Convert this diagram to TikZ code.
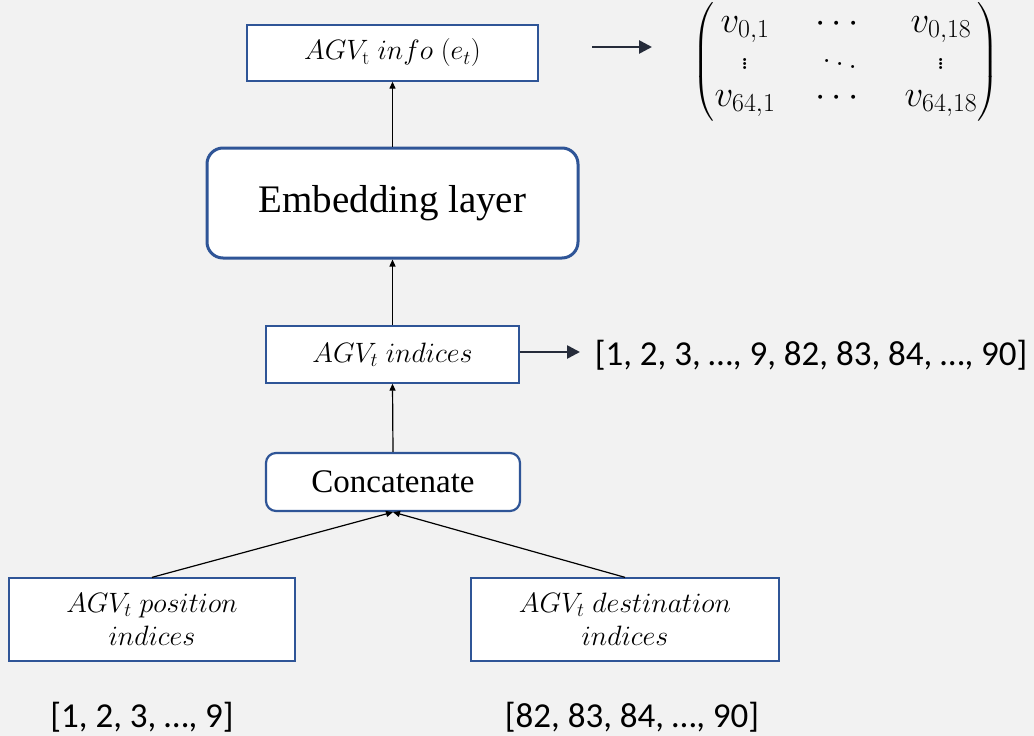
\documentclass[tikz,border=0pt]{standalone}
\usepackage{fix-cm}
\usepackage{amsmath}
\usepackage{fontspec}
\newfontfamily\calfont{Carlito}
\newfontfamily\timesfont{Liberation Serif}
\usetikzlibrary{arrows.meta}
\definecolor{bg}{HTML}{F2F2F2}
\definecolor{boxblue}{HTML}{2F5597}
\definecolor{darrow}{HTML}{262C3A}
\begin{document}
\begin{tikzpicture}[x=1pt,y=-1pt,
  sqbox/.style={draw=boxblue, line width=1.3pt, fill=white, inner sep=0pt, align=center,
    font=\fontsize{28}{33}\selectfont},
  rbox/.style={draw=boxblue, fill=white, inner sep=0pt, align=center},
  varrow/.style={draw=black, line width=1.2pt, -{Triangle[length=7pt,width=6pt]}},
  harrow/.style={draw=darrow, line width=2.6pt, -{Triangle[length=13pt,width=13pt]}},
  lbl/.style={inner sep=0pt, font=\calfont\fontsize{35}{40}\selectfont}]
\fill[bg] (0,0) rectangle (1034,736);
\useasboundingbox (0,0) rectangle (1034,736);

\node[sqbox, minimum width=291pt, minimum height=56pt] (info) at (392.5,53) {$AGV_{\mathrm{t}}\;info\;(e_t)$};
\node[rbox, line width=3pt, rounded corners=16pt, minimum width=371pt, minimum height=110pt,
  font=\timesfont\fontsize{39}{44}\selectfont] (emb) at (392.5,203) {Embedding layer};
\node[sqbox, minimum width=253pt, minimum height=57pt] (idx) at (392.5,354.5) {$AGV_t\;indices$};
\node[rbox, line width=2.2pt, rounded corners=10pt, minimum width=254pt, minimum height=58pt,
  font=\timesfont\fontsize{33}{38}\selectfont] (cat) at (393,482) {Concatenate};
\node[sqbox, minimum width=286pt, minimum height=83pt] (pos) at (152,619.5) {$AGV_t\;position$\\$indices$};
\node[sqbox, minimum width=308pt, minimum height=83pt] (dst) at (625,619.5) {$AGV_t\;destination$\\$indices$};

\node[lbl] (idxlist) at (811,355) {[1, 2, 3, …, 9, 82, 83, 84, …, 90]};
\node[lbl] (poslist) at (142,717) {[1, 2, 3, …, 9]};
\node[lbl] (dstlist) at (632,717) {[82, 83, 84, …, 90]};

\node[inner sep=0pt, font=\fontsize{37}{37}\selectfont] (mat) at (846,62)
  {\setlength{\arraycolsep}{20pt}$\begin{pmatrix} v_{0,1} & \cdots & v_{0,18}\\ \vdots & \ddots & \vdots\\ v_{64,1} & \cdots & v_{64,18}\end{pmatrix}$};

\coordinate (ia) at (592,47);
\coordinate (ib) at (652,47);
\coordinate (xa) at (580,352);

\draw[varrow] (emb.north) -- (info.south);
\draw[varrow] (idx.north) -- (emb.south);
\draw[varrow] (cat.north) -- (idx.south);
\draw[varrow] (pos.north) -- (cat.south);
\draw[varrow] (dst.north) -- (cat.south);
\draw[harrow] (ia) -- (ib);
\draw[harrow] (idx.east |- xa) -- (xa);
\end{tikzpicture}
\end{document}
